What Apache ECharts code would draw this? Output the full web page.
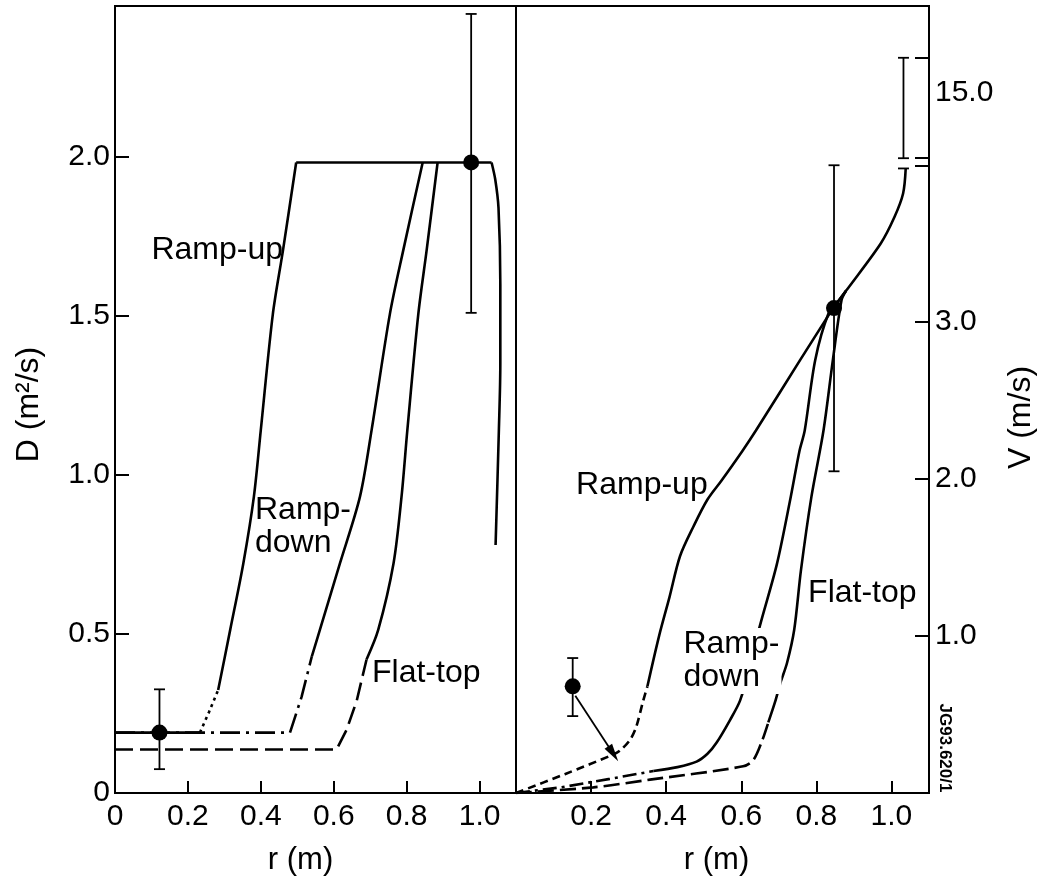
<!DOCTYPE html>
<html>
<head>
<meta charset="utf-8">
<script src="https://cdn.jsdelivr.net/npm/echarts@6.0.0/dist/echarts.min.js"></script>
<style>
  html, body { margin: 0; padding: 0; background: #fff; }
  #chart { width: 1040px; height: 885px; }
</style>
</head>
<body>
<div id="chart"></div>
<script>
// ---------- Diffusion coefficient D (m^2/s) against minor radius r (m) ----------
const dRampUpFlat   = [[0, 0.19], [0.233, 0.19]];
const dRampUpDotted = [[0.233, 0.19], [0.258, 0.255], [0.283, 0.324]];
const dRampUpRise   = [[0.283, 0.324], [0.316, 0.513], [0.352, 0.722], [0.381, 0.932], [0.40, 1.142],
                       [0.433, 1.506], [0.461, 1.708], [0.497, 1.983]];
const dTopFlat      = [[0.497, 1.983], [1.033, 1.983]];
const dEdgeDrop     = [[1.033, 1.983], [1.043, 1.93], [1.052, 1.84], [1.057, 1.6], [1.057, 1.35],
                       [1.053, 1.14], [1.044, 0.78]];
const dRampDownLow  = [[0, 0.19], [0.48, 0.19], [0.512, 0.303], [0.54, 0.43]];
const dRampDownRise = [[0.54, 0.43], [0.562, 0.513], [0.617, 0.722], [0.672, 0.932], [0.704, 1.142],
                       [0.754, 1.506], [0.791, 1.708], [0.844, 1.983]];
const dFlatTopLow   = [[0, 0.137], [0.608, 0.137], [0.635, 0.198], [0.663, 0.29], [0.69, 0.42]];
const dFlatTopRise  = [[0.69, 0.42], [0.722, 0.513], [0.764, 0.722], [0.786, 0.932], [0.802, 1.142],
                       [0.832, 1.506], [0.855, 1.708], [0.885, 1.983]];
// measured points: [r, D, D low, D high]
const dPoints = [[0.122, 0.19, 0.075, 0.326], [0.977, 1.983, 1.51, 2.45]];
const dLabels = [
  { name: 'Ramp-up',     value: [0.10, 1.707] },
  { name: 'Ramp-\ndown', value: [0.384, 0.838] },
  { name: 'Flat-top',    value: [0.705, 0.377] }
];

// ---------- Convection velocity V (m/s) against r (m) ----------
const vRampUpLow    = [[0, 0], [0.13, 0.12], [0.259, 0.245], [0.277, 0.27], [0.304, 0.34], [0.32, 0.42],
                       [0.339, 0.59], [0.35, 0.68]];
const vRampUpRise   = [[0.35, 0.68], [0.381, 1.0], [0.409, 1.25], [0.437, 1.51], [0.473, 1.70], [0.51, 1.87],
                       [0.547, 1.99], [0.603, 2.18], [0.639, 2.31], [0.757, 2.76], [0.842, 3.08]];
const vCommonTop    = [[0.842, 3.08], [0.879, 3.20], [0.971, 3.50], [1.008, 3.67], [1.031, 3.82], [1.038, 3.98]];
const vRampDownLow  = [[0, 0], [0.117, 0.035], [0.25, 0.09], [0.366, 0.14]];
const vRampDownRise = [[0.366, 0.14], [0.43, 0.165], [0.481, 0.20], [0.51, 0.25], [0.534, 0.32], [0.57, 0.465],
                       [0.597, 0.59], [0.625, 0.82], [0.649, 1.06], [0.695, 1.46], [0.732, 1.89], [0.755, 2.18],
                       [0.769, 2.31], [0.797, 2.76], [0.833, 3.06], [0.86, 3.14], [0.879, 3.20]];
const vFlatTopLow   = [[0, 0], [0.206, 0.036], [0.357, 0.085], [0.605, 0.17], [0.632, 0.21], [0.655, 0.33],
                       [0.672, 0.45]];
const vFlatTopRise  = [[0.672, 0.45], [0.69, 0.58], [0.704, 0.70], [0.722, 0.83], [0.741, 1.04], [0.759, 1.42],
                       [0.787, 1.89], [0.819, 2.31], [0.844, 2.76], [0.867, 3.14], [0.879, 3.20]];
// measured points: [r, V, V low, V high]
const vPoints = [[0.151, 0.68, 0.49, 0.86], [0.847, 3.09, 2.05, 4.06]];
// edge value with its (very large) upper error: [r, V low, V high]
const vEdgeBar = [[1.032, 3.98, 15.22]];
const vArrow = [[0.158, 0.62], [0.259, 0.25]];
const vLabels = [
  { name: 'Ramp-up',     value: [0.16, 1.963] },
  { name: 'Ramp-\ndown', value: [0.446, 0.841], label: { backgroundColor: '#fff', padding: [0, 2, 0, 0] } },
  { name: 'Flat-top',    value: [0.778, 1.275] }
];

// tick values
const rTicks = [0.2, 0.4, 0.6, 0.8, 1.0];
const rLabelsLeft = [0, 0.2, 0.4, 0.6, 0.8, 1.0];
const dTicks = [0.5, 1.0, 1.5, 2.0];
const dTickLabels = [0, 0.5, 1.0, 1.5, 2.0];
const vTicks = [1.0, 2.0, 3.0];
const vTickLabels = [1.0, 2.0, 3.0, 15.0];
// the V axis is broken between these two values
const V_BREAK_START = 4.0;
const V_BREAK_END = 14.58;

const FONT = '"Liberation Sans", Arial, Helvetica, sans-serif';
const INK = '#000';
const LW = 2.6;

function fmt(v) { return v === 0 ? '0' : v.toFixed(1); }

function curve(data, gi, dash, smooth) {
  return {
    type: 'line', xAxisIndex: gi, yAxisIndex: gi, data: data,
    showSymbol: false, symbol: 'none', smooth: smooth ? 0.3 : false, silent: true, z: 2,
    lineStyle: { color: INK, width: LW, type: dash || 'solid', cap: 'butt', opacity: 1 }
  };
}

function capLine(x, y, half, style) {
  return { type: 'line', shape: { x1: x - half, y1: y, x2: x + half, y2: y }, style: style };
}

function renderErrorBar(params, api) {
  const r = api.value(0);
  const lo = api.coord([r, api.value(1)]);
  const hi = api.coord([r, api.value(2)]);
  const style = { stroke: INK, lineWidth: 1.8 };
  return {
    type: 'group',
    children: [
      { type: 'line', shape: { x1: lo[0], y1: lo[1], x2: hi[0], y2: hi[1] }, style: style },
      capLine(lo[0], lo[1], 5.5, style),
      capLine(hi[0], hi[1], 5.5, style)
    ]
  };
}

// error bar that crosses the axis break: drawn from the upper side of the break, with caps on both sides
function renderBrokenBar(params, api) {
  const r = api.value(0);
  const lo = api.coord([r, api.value(1)]);
  const hi = api.coord([r, api.value(2)]);
  const brk = api.coord([r, V_BREAK_END]);
  const style = { stroke: INK, lineWidth: 1.8 };
  return {
    type: 'group',
    children: [
      { type: 'line', shape: { x1: brk[0], y1: brk[1], x2: hi[0], y2: hi[1] }, style: style },
      capLine(hi[0], hi[1], 5.5, style),
      capLine(brk[0], brk[1], 5.5, style),
      capLine(lo[0], lo[1], 5.5, style)
    ]
  };
}

function labelSeries(gi, data) {
  return {
    type: 'scatter', xAxisIndex: gi, yAxisIndex: gi, symbolSize: 0, silent: true, z: 6,
    itemStyle: { opacity: 1 },
    data: data,
    label: {
      show: true, position: [0, 0], align: 'left', verticalAlign: 'middle', formatter: '{b}',
      color: INK, opacity: 1, fontFamily: FONT, fontSize: 32, lineHeight: 33
    }
  };
}

const tickLabelStyle = { color: INK, fontFamily: FONT, fontSize: 30 };
const xNameStyle = { color: INK, fontFamily: FONT, fontSize: 31 };
const yNameStyle = { color: INK, fontFamily: FONT, fontSize: 32 };
const hiddenLine = { show: false, onZero: false };

const chart = echarts.init(document.getElementById('chart'), null, { renderer: 'canvas' });

chart.setOption({
  animation: false,
  backgroundColor: '#fff',
  grid: [
    { left: 115, top: 6, width: 401, height: 787, show: true, borderColor: INK, borderWidth: 2, backgroundColor: 'transparent' },
    { left: 516, top: 6, width: 413, height: 787, show: true, borderColor: INK, borderWidth: 2, backgroundColor: 'transparent' }
  ],
  xAxis: [
    {
      gridIndex: 0, type: 'value', min: 0, max: 1.1,
      name: 'r (m)', nameLocation: 'middle', nameGap: 52, nameTextStyle: Object.assign({ padding: [0, 30, 0, 0] }, xNameStyle),
      axisLine: hiddenLine, splitLine: { show: false },
      axisTick: { show: true, inside: true, length: 12, customValues: rTicks, lineStyle: { color: INK, width: 2 } },
      axisLabel: { customValues: rLabelsLeft, formatter: fmt, margin: 9, ...tickLabelStyle }
    },
    {
      gridIndex: 1, type: 'value', min: 0, max: 1.1,
      name: 'r (m)', nameLocation: 'middle', nameGap: 52, nameTextStyle: Object.assign({ padding: [0, 12, 0, 0] }, xNameStyle),
      axisLine: hiddenLine, splitLine: { show: false },
      axisTick: { show: true, inside: true, length: 12, customValues: rTicks, lineStyle: { color: INK, width: 2 } },
      axisLabel: { customValues: rTicks, formatter: fmt, margin: 9, ...tickLabelStyle }
    }
  ],
  yAxis: [
    {
      gridIndex: 0, type: 'value', min: 0, max: 2.475,
      name: 'D (m²/s)', nameLocation: 'middle', nameRotate: 90, nameGap: 70,
      nameTextStyle: Object.assign({ padding: [0, 10, 0, 0] }, yNameStyle),
      axisLine: hiddenLine, splitLine: { show: false },
      axisTick: { show: true, inside: true, length: 14, customValues: dTicks, lineStyle: { color: INK, width: 2 } },
      axisLabel: { customValues: dTickLabels, formatter: fmt, margin: 5, ...tickLabelStyle }
    },
    {
      gridIndex: 1, type: 'value', position: 'right', min: 0, max: 15.55,
      breaks: [{ start: V_BREAK_START, end: V_BREAK_END, gap: '0.9%' }],
      breakArea: { show: false },
      name: 'V (m/s)', nameLocation: 'middle', nameRotate: 90, nameGap: 76,
      nameTextStyle: Object.assign({ padding: [0, 36, 0, 0] }, yNameStyle),
      axisLine: hiddenLine, splitLine: { show: false },
      axisTick: { show: true, inside: true, length: 14,
                  customValues: vTicks.concat([V_BREAK_START, V_BREAK_END, vEdgeBar[0][2]]),
                  lineStyle: { color: INK, width: 2 } },
      axisLabel: { customValues: vTickLabels, formatter: fmt, margin: 6, ...tickLabelStyle }
    }
  ],
  graphic: [
    {
      type: 'text', x: 945, y: 748, rotation: -Math.PI / 2, silent: true,
      style: { text: 'JG93.620/1', font: 'bold 17px ' + FONT, fill: INK, textAlign: 'center', textVerticalAlign: 'middle' }
    }
  ],
  series: [
    // D panel
    curve(dRampUpFlat, 0),
    curve(dRampUpDotted, 0, [3, 4]),
    curve(dRampUpRise, 0, 'solid', true),
    curve(dTopFlat, 0),
    curve(dEdgeDrop, 0, 'solid', true),
    curve(dRampDownLow, 0, [20, 6, 3, 6]),
    curve(dRampDownRise, 0, 'solid', true),
    curve(dFlatTopLow, 0, [18, 7]),
    curve(dFlatTopRise, 0, 'solid', true),
    {
      type: 'custom', xAxisIndex: 0, yAxisIndex: 0, silent: true, z: 3,
      data: dPoints.map(p => [p[0], p[2], p[3]]), encode: { x: 0, y: [1, 2] }, renderItem: renderErrorBar
    },
    {
      type: 'scatter', xAxisIndex: 0, yAxisIndex: 0, silent: true, z: 4, symbol: 'circle', symbolSize: 16,
      itemStyle: { color: INK, opacity: 1 }, data: dPoints.map(p => [p[0], p[1]])
    },
    labelSeries(0, dLabels),

    // V panel
    curve(vRampUpLow, 1, [8, 5], true),
    curve(vRampUpRise, 1, 'solid', true),
    curve(vCommonTop, 1, 'solid', true),
    curve(vRampDownLow, 1, [14, 5, 3, 5]),
    curve(vRampDownRise, 1, 'solid', true),
    curve(vFlatTopLow, 1, [16, 6], true),
    curve(vFlatTopRise, 1, 'solid', true),
    {
      type: 'custom', xAxisIndex: 1, yAxisIndex: 1, silent: true, z: 3,
      data: vPoints.map(p => [p[0], p[2], p[3]]), encode: { x: 0, y: [1, 2] }, renderItem: renderErrorBar
    },
    {
      type: 'custom', xAxisIndex: 1, yAxisIndex: 1, silent: true, z: 3,
      data: vEdgeBar, encode: { x: 0, y: [1, 2] }, renderItem: renderBrokenBar
    },
    {
      type: 'scatter', xAxisIndex: 1, yAxisIndex: 1, silent: true, z: 4, symbol: 'circle', symbolSize: 16,
      itemStyle: { color: INK, opacity: 1 }, data: vPoints.map(p => [p[0], p[1]]),
      markLine: {
        silent: true, symbol: ['none', 'triangle'], symbolSize: [9, 18],
        lineStyle: { color: INK, width: 1.8, type: 'solid', opacity: 1 }, label: { show: false },
        data: [[{ coord: vArrow[0] }, { coord: vArrow[1] }]]
      }
    },
    labelSeries(1, vLabels)
  ]
});
</script>
</body>
</html>
